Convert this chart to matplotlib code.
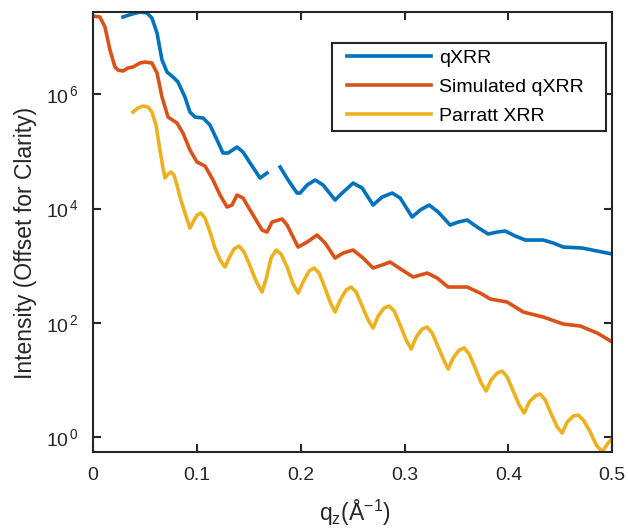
import numpy as np
import matplotlib
matplotlib.use('Agg')
from matplotlib import pyplot as plt
from matplotlib import ticker
from matplotlib.patches import Rectangle

plt.rcParams['font.family'] = ['Liberation Sans', 'DejaVu Sans']
plt.rcParams['mathtext.fontset'] = 'custom'
plt.rcParams['mathtext.rm'] = 'Liberation Sans'
plt.rcParams['mathtext.it'] = 'Liberation Sans'

# values are log10(intensity)

# qXRR (measured) - there's a gap around q=0.17
q_blue1 = [0.0289, 0.0376, 0.0453, 0.0520, 0.0568, 0.0617, 0.0665, 0.0713, 0.0771, 0.0819,
           0.0886, 0.0934, 0.0983, 0.1060, 0.1127, 0.1195, 0.1252, 0.1301, 0.1387, 0.1445,
           0.1513, 0.1609, 0.1676]
lg_blue1 = [7.356, 7.408, 7.443, 7.426, 7.338, 7.075, 6.602, 6.392, 6.305, 6.217,
            5.954, 5.692, 5.604, 5.587, 5.464, 5.201, 4.974, 4.974, 5.079, 4.991,
            4.799, 4.536, 4.623]
q_blue2 = [0.1802, 0.1879, 0.1965, 0.1994, 0.2062, 0.2139, 0.2216, 0.2331, 0.2399, 0.2505,
           0.2592, 0.2697, 0.2784, 0.2881, 0.2958, 0.3073, 0.3150, 0.3237, 0.3324, 0.3439,
           0.3516, 0.3603, 0.3699, 0.3805, 0.3892, 0.3969, 0.4066, 0.4162, 0.4335, 0.4432,
           0.4528, 0.4711, 0.4855, 0.5000]
lg_blue2 = [4.729, 4.501, 4.273, 4.273, 4.413, 4.501, 4.413, 4.151, 4.273, 4.448,
            4.361, 4.063, 4.203, 4.273, 4.186, 3.853, 3.975, 4.063, 3.940, 3.713,
            3.765, 3.800, 3.678, 3.555, 3.590, 3.608, 3.520, 3.450, 3.450, 3.398,
            3.327, 3.310, 3.257, 3.205]

# simulated qXRR
q_sim = [0.0000, 0.0067, 0.0116, 0.0164, 0.0212, 0.0241, 0.0289, 0.0337, 0.0385, 0.0453,
         0.0501, 0.0568, 0.0617, 0.0665, 0.0723, 0.0809, 0.0867, 0.0934, 0.1002, 0.1079,
         0.1156, 0.1224, 0.1291, 0.1339, 0.1387, 0.1445, 0.1513, 0.1628, 0.1676, 0.1724,
         0.1821, 0.1869, 0.1975, 0.2062, 0.2158, 0.2235, 0.2331, 0.2408, 0.2505, 0.2601,
         0.2697, 0.2784, 0.2861, 0.2977, 0.3083, 0.3218, 0.3314, 0.3420, 0.3603, 0.3728,
         0.3825, 0.3988, 0.4143, 0.4335, 0.4528, 0.4692, 0.4855, 0.5000]
lg_sim = [7.373, 7.356, 7.180, 6.778, 6.480, 6.427, 6.410, 6.462, 6.480, 6.550,
          6.567, 6.550, 6.375, 5.954, 5.604, 5.499, 5.324, 5.026, 4.816, 4.746,
          4.501, 4.238, 4.028, 4.063, 4.238, 4.186, 3.975, 3.625, 3.590, 3.765,
          3.818, 3.713, 3.327, 3.415, 3.538, 3.398, 3.135, 3.222, 3.275, 3.135,
          2.960, 3.012, 3.065, 2.925, 2.802, 2.872, 2.785, 2.627, 2.627, 2.522,
          2.417, 2.364, 2.189, 2.102, 1.979, 1.944, 1.821, 1.664]

# Parratt XRR
q_par = [0.0385, 0.0434, 0.0482, 0.0530, 0.0568, 0.0607, 0.0645, 0.0674, 0.0694, 0.0723,
         0.0751, 0.0780, 0.0809, 0.0838, 0.0886, 0.0934, 0.0963, 0.1002, 0.1040, 0.1079,
         0.1127, 0.1175, 0.1224, 0.1272, 0.1310, 0.1358, 0.1407, 0.1455, 0.1513, 0.1570,
         0.1628, 0.1667, 0.1715, 0.1763, 0.1811, 0.1869, 0.1927, 0.1975, 0.2023, 0.2081,
         0.2129, 0.2177, 0.2235, 0.2283, 0.2331, 0.2380, 0.2437, 0.2486, 0.2534, 0.2592,
         0.2649, 0.2697, 0.2746, 0.2803, 0.2852, 0.2900, 0.2958, 0.3015, 0.3064, 0.3112,
         0.3170, 0.3218, 0.3266, 0.3324, 0.3382, 0.3420, 0.3468, 0.3526, 0.3574, 0.3622,
         0.3680, 0.3738, 0.3786, 0.3834, 0.3892, 0.3940, 0.3988, 0.4046, 0.4104, 0.4152,
         0.4200, 0.4258, 0.4306, 0.4355, 0.4412, 0.4470, 0.4518, 0.4566, 0.4624, 0.4672,
         0.4721, 0.4788, 0.4846, 0.4904, 0.4952, 0.5010]
lg_par = [5.692, 5.762, 5.797, 5.779, 5.692, 5.464, 5.026, 4.711, 4.536, 4.606,
          4.641, 4.588, 4.413, 4.203, 3.923, 3.660, 3.765, 3.888, 3.923, 3.835,
          3.590, 3.310, 3.100, 2.977, 3.135, 3.292, 3.345, 3.240, 2.995, 2.732,
          2.539, 2.767, 3.135, 3.275, 3.205, 2.977, 2.680, 2.522, 2.715, 2.907,
          2.960, 2.872, 2.609, 2.364, 2.189, 2.399, 2.574, 2.627, 2.539, 2.294,
          2.049, 1.909, 2.119, 2.259, 2.294, 2.207, 1.961, 1.699, 1.541, 1.751,
          1.891, 1.926, 1.821, 1.576, 1.331, 1.191, 1.384, 1.524, 1.559, 1.454,
          1.208, 0.946, 0.806, 0.998, 1.121, 1.156, 1.051, 0.806, 0.560, 0.420,
          0.613, 0.718, 0.753, 0.648, 0.403, 0.175, 0.070, 0.263, 0.368, 0.385,
          0.298, 0.088, -0.140, -0.263, -0.123, 0.000]

c_blue = (0, 0.447, 0.741)
c_orange = (0.850, 0.325, 0.098)
c_yellow = (0.929, 0.694, 0.125)
dark = (0.15, 0.15, 0.15)

fig = plt.figure(figsize=(6.28, 5.31), dpi=100)
ax = fig.add_axes([0.148, 0.149, 0.827, 0.828])

lw = 2.6
ax.plot(q_blue1, 10**np.array(lg_blue1), color=c_blue, lw=lw, label='qXRR')
ax.plot(q_blue2, 10**np.array(lg_blue2), color=c_blue, lw=lw)
ax.plot(q_sim, 10**np.array(lg_sim), color=c_orange, lw=lw, label='Simulated qXRR')
ax.plot(q_par, 10**np.array(lg_par), color=c_yellow, lw=lw, label='Parratt XRR')

ax.set_yscale('log')
ax.set_xlim(0, 0.5)
ax.set_ylim(10**-0.26, 10**7.44)
ax.set_xticks([0, 0.1, 0.2, 0.3, 0.4, 0.5])
ax.set_xticklabels(['0', '0.1', '0.2', '0.3', '0.4', '0.5'])
ax.set_yticks([1, 1e2, 1e4, 1e6])
ax.set_yticklabels([r'10$^{\,\mathregular{%d}}$' % e for e in [0, 2, 4, 6]])
ax.yaxis.set_minor_locator(ticker.NullLocator())

for s in ax.spines.values():
    s.set_linewidth(1.5)
    s.set_color(dark)
ax.tick_params(direction='in', top=True, right=True, length=6, width=1.5,
               labelsize=14, colors=dark)
ax.tick_params(axis='x', pad=11)
ax.tick_params(axis='y', pad=10)

ax.set_xlabel(r'q$_\mathregular{z}$($\mathregular{\AA^{-1}}$)', fontsize=16.5, color=dark)
ax.set_ylabel('Intensity (Offset for Clarity)', fontsize=16.5, color=dark)
ax.xaxis.set_label_coords(0.505, -0.105)
ax.yaxis.set_label_coords(-0.108, 0.475)

# legend without its own frame; the box is drawn afterwards with MATLAB-like padding
leg = ax.legend(loc='upper right', bbox_to_anchor=(0.9557, 0.9295), fontsize=14,
                frameon=False, handlelength=4.3, handletextpad=0.4,
                borderpad=0.3, labelspacing=0.6, borderaxespad=0)
leg.set_zorder(6)
fig.canvas.draw()
bb = leg.get_window_extent(fig.canvas.get_renderer())
box = Rectangle((bb.x0 - 9, bb.y0), bb.width + 26, bb.height, transform=None,
                facecolor='white', edgecolor=dark, lw=1.5, zorder=5.5)
ax.add_artist(box)

fig.savefig('out.png', dpi=100)
